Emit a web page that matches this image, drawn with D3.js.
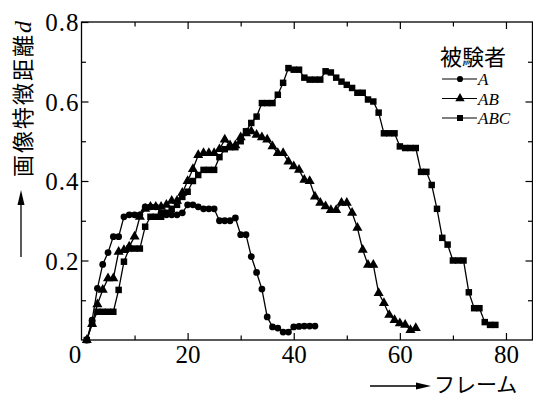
<!DOCTYPE html>
<html>
<head>
<meta charset="utf-8">
<script src="https://cdn.jsdelivr.net/npm/d3@7"></script>
<style>
  html, body { margin: 0; padding: 0; background: #fff; }
  svg { display: block; }
</style>
</head>
<body>
<svg id="chart" width="533" height="399"></svg>
<script>
// ---- data ----
const legendTitle = "被験者";
const seriesNames = ["A", "AB", "ABC"];
const xTicks = [0, 20, 40, 60, 80];
const yTicks = [0.2, 0.4, 0.6, 0.8];
const xMinorTicks = [10, 30, 50, 70];
const yMinorTicks = [0.1, 0.3, 0.5, 0.7];
const xTitle = "フレーム";
const yTitle = "画像特徴距離";

// values start at frame 1, one value per frame
const valuesA = [0.0, 0.05, 0.13, 0.19, 0.22, 0.26, 0.26, 0.31, 0.315, 0.315,
  0.315, 0.335, 0.335, 0.335, 0.32, 0.315, 0.315, 0.315, 0.32, 0.34,
  0.34, 0.335, 0.33, 0.33, 0.33, 0.30, 0.30, 0.30, 0.307, 0.265,
  0.265, 0.21, 0.17, 0.128, 0.058, 0.033, 0.03, 0.02, 0.02, 0.033,
  0.034, 0.035, 0.035, 0.035];
const valuesAB = [0.0, 0.04, 0.09, 0.126, 0.155, 0.155, 0.222, 0.226, 0.235, 0.26,
  0.31, 0.33, 0.335, 0.335, 0.335, 0.34, 0.35, 0.35, 0.37, 0.40,
  0.43, 0.465, 0.47, 0.47, 0.47, 0.48, 0.504, 0.49, 0.49, 0.51,
  0.52, 0.525, 0.516, 0.51, 0.504, 0.487, 0.47, 0.47, 0.449, 0.437,
  0.428, 0.403, 0.40, 0.361, 0.345, 0.336, 0.327, 0.327, 0.345, 0.345,
  0.32, 0.282, 0.227, 0.189, 0.189, 0.118, 0.093, 0.063, 0.05, 0.042,
  0.038, 0.025, 0.03];
const valuesABC = [0.0, 0.042, 0.071, 0.071, 0.071, 0.071, 0.126, 0.197, 0.23, 0.23,
  0.23, 0.285, 0.31, 0.31, 0.31, 0.32, 0.33, 0.34, 0.36, 0.373,
  0.40, 0.415, 0.428, 0.428, 0.428, 0.46, 0.48, 0.485, 0.485, 0.50,
  0.525, 0.546, 0.562, 0.596, 0.596, 0.596, 0.617, 0.647, 0.684, 0.68,
  0.68, 0.66, 0.655, 0.655, 0.655, 0.676, 0.673, 0.66, 0.65, 0.642,
  0.634, 0.622, 0.622, 0.605, 0.60, 0.572, 0.52, 0.52, 0.52, 0.487,
  0.483, 0.483, 0.483, 0.423, 0.423, 0.39, 0.33, 0.257, 0.24, 0.20,
  0.20, 0.20, 0.12, 0.08, 0.08, 0.045, 0.038, 0.038];

const seriesValues = [valuesA, valuesAB, valuesABC];
const seriesSymbols = [d3.symbolCircle, d3.symbolTriangle, d3.symbolSquare];
const symbolSizes = [36, 44, 42];

// ---- layout ----
const svg = d3.select("#chart");
const x = d3.scaleLinear().domain([0, 85]).range([81.5, 532.5]);
const y = d3.scaleLinear().domain([0, 0.8]).range([340, 22]);

const serif = "'Liberation Serif', 'Times New Roman', serif";
const cjk = "'Noto Sans CJK JP', 'Noto Sans CJK SC', sans-serif";

// frame box
svg.append("rect")
  .attr("x", x(0)).attr("y", y(0.8))
  .attr("width", x(85) - x(0)).attr("height", y(0) - y(0.8))
  .attr("fill", "none").attr("stroke", "#000").attr("stroke-width", 1.3);

function styleAxis(g) {
  g.select(".domain").remove();
  g.selectAll(".tick line").attr("stroke", "#000").attr("stroke-width", 1.2);
  g.selectAll("text").attr("fill", "#000").style("font-family", serif).style("font-size", "25px");
}

// bottom axis
const gx = svg.append("g").attr("transform", `translate(0,${y(0)})`)
  .call(d3.axisBottom(x).tickValues(xTicks).tickSizeInner(-7).tickSizeOuter(0).tickPadding(5).tickFormat(d3.format("d")))
  .call(styleAxis);
gx.selectAll(".tick").filter(d => d === 0).select("line").remove();
gx.selectAll(".tick").filter(d => d === 0).select("text").attr("dx", -7);
svg.append("g").attr("transform", `translate(0,${y(0)})`)
  .call(d3.axisBottom(x).tickValues(xMinorTicks).tickSizeInner(-4.5).tickSizeOuter(0).tickFormat(""))
  .call(styleAxis);
// top axis
svg.append("g").attr("transform", `translate(0,${y(0.8)})`)
  .call(d3.axisTop(x).tickValues(xTicks.filter(d => d > 0)).tickSizeInner(-7).tickSizeOuter(0).tickFormat(""))
  .call(styleAxis);
svg.append("g").attr("transform", `translate(0,${y(0.8)})`)
  .call(d3.axisTop(x).tickValues(xMinorTicks).tickSizeInner(-4.5).tickSizeOuter(0).tickFormat(""))
  .call(styleAxis);

// left axis
svg.append("g").attr("transform", `translate(${x(0)},0)`)
  .call(d3.axisLeft(y).tickValues(yTicks).tickSizeInner(-7).tickSizeOuter(0).tickPadding(2).tickFormat(d3.format(".1f")))
  .call(styleAxis)
  .selectAll("text").attr("dy", "0.34em").style("letter-spacing", "1px");
svg.append("g").attr("transform", `translate(${x(0)},0)`)
  .call(d3.axisLeft(y).tickValues(yMinorTicks).tickSizeInner(-4.5).tickSizeOuter(0).tickFormat(""))
  .call(styleAxis);
// right axis
svg.append("g").attr("transform", `translate(${x(85)},0)`)
  .call(d3.axisRight(y).tickValues(yTicks.filter(d => d < 0.8)).tickSizeInner(-7).tickSizeOuter(0).tickFormat(""))
  .call(styleAxis);
svg.append("g").attr("transform", `translate(${x(85)},0)`)
  .call(d3.axisRight(y).tickValues(yMinorTicks).tickSizeInner(-4.5).tickSizeOuter(0).tickFormat(""))
  .call(styleAxis);

// ---- series ----
const line = d3.line().x((d, i) => x(i + 1)).y(d => y(d));
seriesValues.forEach((vals, si) => {
  const g = svg.append("g");
  g.append("path").datum(vals).attr("d", line)
    .attr("fill", "none").attr("stroke", "#000").attr("stroke-width", 1.3);
  const sym = d3.symbol().type(seriesSymbols[si]).size(symbolSizes[si]);
  g.selectAll("path.mk").data(vals).join("path").attr("class", "mk")
    .attr("transform", (d, i) => `translate(${x(i + 1)},${y(d)})`)
    .attr("d", sym).attr("fill", "#000");
});

// ---- legend ----
svg.append("text").attr("x", 440).attr("y", 65).text(legendTitle)
  .style("font-family", cjk).style("font-size", "22px").attr("fill", "#000");
const legendRows = [79, 98.5, 118];
seriesNames.forEach((name, si) => {
  const ly = legendRows[si];
  svg.append("line").attr("x1", 442).attr("x2", 477).attr("y1", ly).attr("y2", ly)
    .attr("stroke", "#000").attr("stroke-width", 1.1);
  svg.append("path").attr("transform", `translate(460,${ly})`)
    .attr("d", d3.symbol().type(seriesSymbols[si]).size(symbolSizes[si] - 6)()).attr("fill", "#000");
  svg.append("text").attr("x", 478).attr("y", ly + 6).text(name)
    .style("font-family", serif).style("font-style", "italic").style("font-size", "17px").attr("fill", "#000");
});

// ---- axis titles ----
const yt = svg.append("text").attr("transform", "translate(31,177) rotate(-90)")
  .style("font-family", cjk).style("font-size", "22px").style("letter-spacing", "2px").attr("fill", "#000");
yt.append("tspan").text(yTitle);
yt.append("tspan").text("d").style("font-family", serif).style("font-style", "italic").style("font-size", "24px");

// y arrow (pointing up)
svg.append("line").attr("x1", 21).attr("x2", 21).attr("y1", 257).attr("y2", 200)
  .attr("stroke", "#000").attr("stroke-width", 1.3);
svg.append("path").attr("d", "M21,190 L17.5,205 L24.5,205 Z").attr("fill", "#000");

// x arrow (pointing right)
svg.append("line").attr("x1", 370).attr("x2", 420).attr("y1", 386).attr("y2", 386)
  .attr("stroke", "#000").attr("stroke-width", 1.3);
svg.append("path").attr("d", "M431,386 L416,382.5 L416,389.5 Z").attr("fill", "#000");
svg.append("text").attr("x", 434).attr("y", 392).text(xTitle)
  .style("font-family", cjk).style("font-size", "21px").attr("fill", "#000");
</script>
</body>
</html>
